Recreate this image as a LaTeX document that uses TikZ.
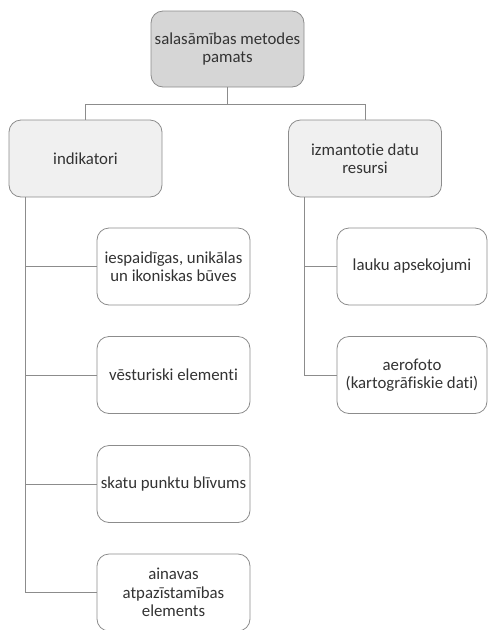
\documentclass[tikz,border=0pt]{standalone}
\usepackage{fontspec}
\setmainfont[Ligatures=NoCommon]{Carlito}
\begin{document}
\begin{tikzpicture}[x=1pt,y=-1pt,
  box/.style={draw=black!45,line width=0.8pt,rounded corners=12pt,align=center,
    inner sep=2pt,font=\fontsize{16.8}{18.3}\selectfont,text=black!80},
  topbox/.style={box,fill=black!16,minimum width=153pt,minimum height=76pt},
  midbox/.style={box,fill=black!6,minimum width=153pt,minimum height=77pt},
  leafL/.style={box,fill=white,minimum width=153pt,minimum height=77pt},
  leafR/.style={box,fill=white,minimum width=150pt,minimum height=77pt},
  conn/.style={draw=black!45,line width=0.9pt}]
\useasboundingbox (0,0) rectangle (488,630);
\node[topbox] (top) at (227.5,49) {salasāmības metodes\\pamats};
\node[midbox] (ind) at (85.5,158.5) {indikatori};
\node[midbox] (res) at (365,158.5) {izmantotie datu\\resursi};
\node[leafL] (l1) at (173.5,266.5) {iespaidīgas, unikālas\\un ikoniskas būves};
\node[leafL] (l2) at (173.5,375) {vēsturiski elementi};
\node[leafL] (l3) at (173.5,484) {skatu punktu blīvums};
\node[leafL] (l4) at (173.5,592.5) {ainavas\\atpazīstamības\\elements};
\node[leafR] (r1) at (412,266.5) {lauku apsekojumi};
\node[leafR] (r2) at (412,375) {aerofoto\\(kartogrāfiskie dati)};
\coordinate (mid) at (227.5,104);
\draw[conn] (top.south) -- (mid) -| (ind.north);
\draw[conn] (mid) -| (res.north);
\coordinate (lt) at (25,0);
\coordinate (rt) at (304,0);
\draw[conn] (ind.south -| lt) |- (l4.west);
\draw[conn] (ind.south -| lt) |- (l1.west);
\draw[conn] (ind.south -| lt) |- (l2.west);
\draw[conn] (ind.south -| lt) |- (l3.west);
\draw[conn] (res.south -| rt) |- (r2.west);
\draw[conn] (res.south -| rt) |- (r1.west);
\end{tikzpicture}
\end{document}
